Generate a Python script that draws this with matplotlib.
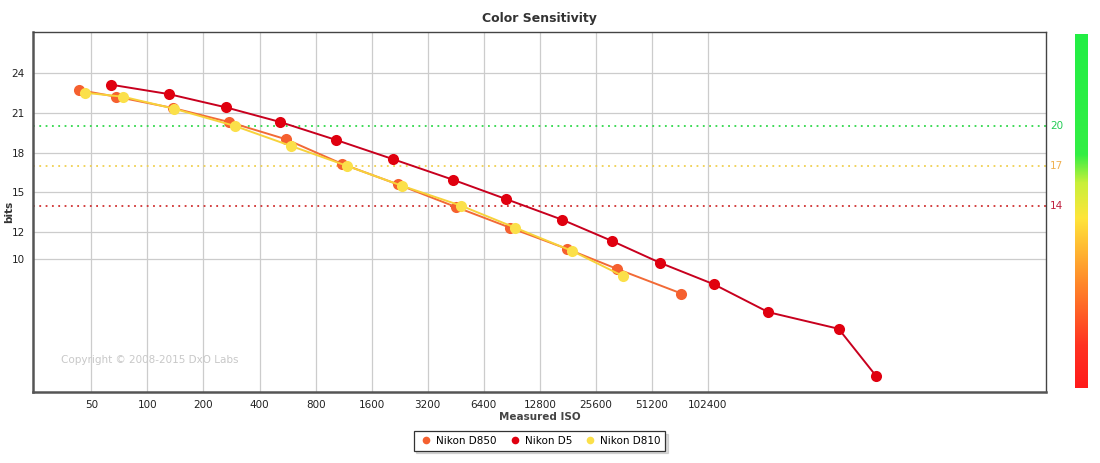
import matplotlib.pyplot as plt
import numpy as np
from matplotlib.colors import LinearSegmentedColormap

# values (ISO, bits)
d850_iso = [43, 68, 137, 274, 555, 1110, 2220, 4550, 8870, 18000, 33300, 73800]
d850_bits = [22.7, 22.2, 21.35, 20.3, 19.0, 17.15, 15.6, 13.9, 12.35, 10.75, 9.25, 7.4]

d810_iso = [46, 74, 139, 295, 590, 1180, 2330, 4850, 9440, 19100, 36000]
d810_bits = [22.5, 22.2, 21.3, 20.0, 18.5, 17.0, 15.5, 14.0, 12.35, 10.6, 8.7]

d5_iso = [64, 130, 264, 516, 1030, 2090, 4390, 8450, 16900, 31300, 56900, 110000, 216000, 515000, 819000]
d5_bits = [23.1, 22.4, 21.4, 20.3, 18.95, 17.5, 15.95, 14.5, 12.95, 11.35, 9.7, 8.1, 6.0, 4.75, 1.2]

x_ticks = [50, 100, 200, 400, 800, 1600, 3200, 6400, 12800, 25600, 51200, 102400]
y_ticks = [10, 12, 15, 18, 21, 24]
ref_levels = [20, 17, 14]
ref_colors = ['#2fd84a', '#f0d050', '#d03030']
ref_text_colors = ['#22cc55', '#f0b050', '#c02040']

fig = plt.figure(figsize=(11, 4.63), dpi=100)
ax = fig.add_axes([0.030, 0.1534, 0.921, 0.7776])

ax.set_xscale('log', base=2)
ax.set_xlim(24.3, 6.7e6)
ax.set_ylim(0, 27.07)

ax.set_xticks(x_ticks)
ax.set_xticklabels([str(v) for v in x_ticks], fontsize=7.5, color='#222222')
ax.set_xticks([], minor=True)
ax.set_yticks(y_ticks)
ax.set_yticklabels([str(v) for v in y_ticks], fontsize=7.5, color='#222222')
ax.tick_params(length=0, pad=6)
ax.grid(True, color='#cccccc', linewidth=0.9)
ax.set_axisbelow(True)

for side in ['left', 'bottom']:
    ax.spines[side].set_color('#555555')
    ax.spines[side].set_linewidth(1.8)
for side in ['top', 'right']:
    ax.spines[side].set_color('#444444')
    ax.spines[side].set_linewidth(1.0)

# reference levels
for lvl, c, tc in zip(ref_levels, ref_colors, ref_text_colors):
    ax.axhline(lvl, color=c, linestyle=(0, (1, 2.5)), linewidth=1.3, zorder=1)
    ax.text(1.004, lvl, str(lvl), transform=ax.get_yaxis_transform(),
            color=tc, fontsize=7.5, va='center', ha='left')

ax.plot(d850_iso, d850_bits, color='#f26a36', linewidth=1.4, marker='o',
        markersize=8, markerfacecolor='#f5602f', markeredgewidth=0, label='Nikon D850', zorder=3)
ax.plot(d5_iso, d5_bits, color='#c8001e', linewidth=1.4, marker='o',
        markersize=8, markerfacecolor='#e0000f', markeredgewidth=0, label='Nikon D5', zorder=4)
ax.plot(d810_iso, d810_bits, color='#f7d23a', linewidth=1.4, marker='o',
        markersize=8, markerfacecolor='#fbe04a', markeredgewidth=0, label='Nikon D810', zorder=5)

ax.set_title('Color Sensitivity', fontsize=9, fontweight='bold', color='#333333', pad=7)
ax.set_xlabel('Measured ISO', fontsize=7.5, fontweight='bold', color='#444444', labelpad=1)
ax.set_ylabel('bits', fontsize=7.5, fontweight='bold', color='#333333')
ax.yaxis.set_label_coords(-0.019, 0.5)

ax.text(0.028, 0.08, 'Copyright \u00a9 2008-2015 DxO Labs', transform=ax.transAxes,
        fontsize=7.5, color='#c8c8c8')

handles, labels = ax.get_legend_handles_labels()
leg_handles = [plt.Line2D([], [], linestyle='none', marker='o', markersize=5.5,
                          markerfacecolor=h.get_markerfacecolor(), markeredgewidth=0)
               for h in handles]
leg = fig.legend(leg_handles, labels, loc='center', bbox_to_anchor=(0.4905, 0.0475), ncol=3,
                 fontsize=7.5, frameon=True, fancybox=False,
                 shadow={'color': '#999999', 'alpha': 0.35},
                 handletextpad=0.2, columnspacing=1.0, borderpad=0.45, handlelength=1.5)
leg.get_frame().set_edgecolor('#333333')
leg.get_frame().set_linewidth(0.9)

# colour scale bar on the right
cmap = LinearSegmentedColormap.from_list('scale', [
    (0.0, '#ff1a1a'), (0.12, '#ff3322'), (0.30, '#ff8a2a'),
    (0.48, '#ffe53a'), (0.58, '#c8f03a'), (0.66, '#33ee44'), (1.0, '#22ee44')])
cax = fig.add_axes([1075 / 1100, 75 / 463, 13 / 1100, 354 / 463])
grad = np.linspace(0, 1, 256).reshape(-1, 1)
cax.imshow(grad, aspect='auto', cmap=cmap, origin='lower')
cax.axis('off')

plt.savefig('out.png', dpi=100)
